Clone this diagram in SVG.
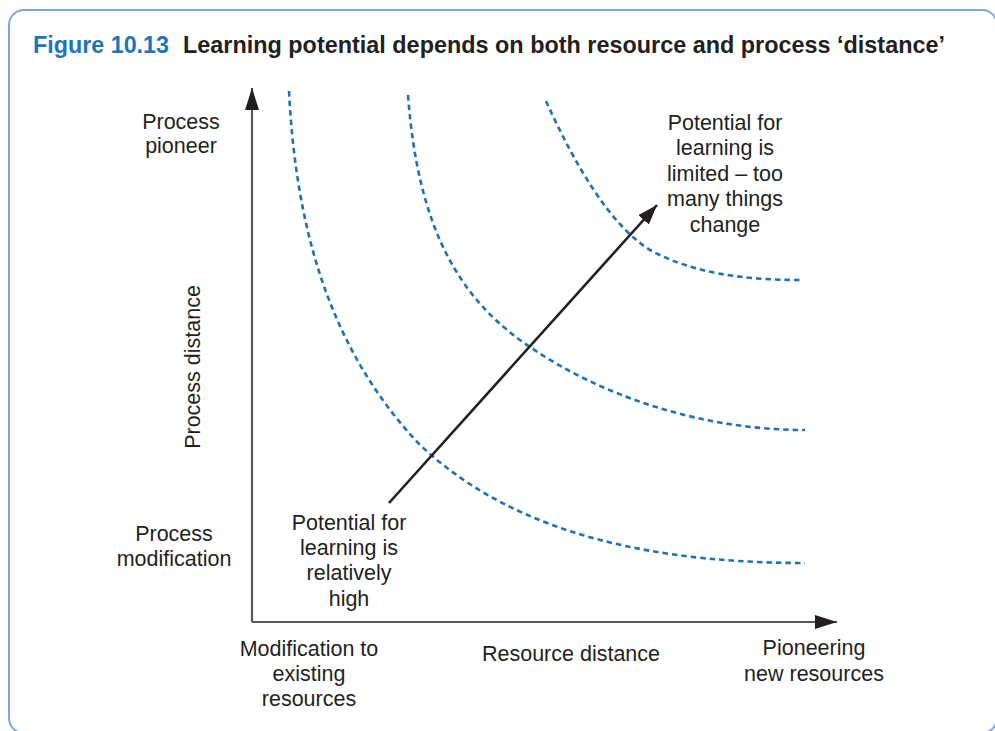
<svg xmlns="http://www.w3.org/2000/svg" width="995" height="731" viewBox="0 0 995 731">
<style>
.lbl{font-family:"Liberation Sans",Arial,sans-serif;font-size:21.5px;fill:#231f20;text-anchor:middle}
.curve{fill:none;stroke:#1a72b9;stroke-width:2.6;stroke-dasharray:5.5 4}
.axis{stroke:#58595b;stroke-width:2.2;fill:none}
.title{font-family:"Liberation Sans Narrow","Liberation Sans",Arial,sans-serif;font-weight:bold;font-size:24px}
</style>
<defs>
<marker id="axhead" viewBox="0 0 22 14" refX="22" refY="7" markerWidth="22" markerHeight="14" markerUnits="userSpaceOnUse" orient="auto">
<path d="M0,0 L22,7 L0,14 Z" fill="#231f20"/>
</marker>
<marker id="arhead" viewBox="0 0 20 14" refX="20" refY="7" markerWidth="20" markerHeight="14" markerUnits="userSpaceOnUse" orient="auto">
<path d="M0,0 L20,7 L0,14 Z" fill="#231f20"/>
</marker>
</defs>
<rect x="9" y="10" width="988" height="723" rx="15" ry="15" fill="#ffffff" stroke="#7fa6dc" stroke-width="2"/>
<g id="title">
<text class="title" x="33" y="53" fill="#1b75bb" textLength="136" lengthAdjust="spacingAndGlyphs">Figure 10.13</text>
<text class="title" x="183" y="53" fill="#231f20" textLength="762" lengthAdjust="spacingAndGlyphs">Learning potential depends on both resource and process ‘distance’</text>
</g>
<g id="connectors">
<path class="axis" d="M252,622 L252,88" marker-end="url(#axhead)"/>
<path class="axis" d="M252,622 L837,622" marker-end="url(#axhead)"/>
<path class="curve" d="M289,91 C296,230 330,350 420,445 C500,520 620,563 805,563"/>
<path class="curve" d="M408,95 C418,230 460,300 530,347 C600,395 700,430 805,430"/>
<path class="curve" d="M546,101 C575,165 610,225 650,250 C690,272 740,280 800,280"/>
<line x1="389" y1="503" x2="657" y2="205" stroke="#231f20" stroke-width="2.6" marker-end="url(#arhead)"/>
</g>
<g id="y-axis-labels">
<text class="lbl" x="181" y="129">Process</text>
<text class="lbl" x="181" y="153">pioneer</text>
<text class="lbl" transform="translate(200,367) rotate(-90)" x="0" y="0">Process distance</text>
<text class="lbl" x="174" y="541">Process</text>
<text class="lbl" x="174" y="566">modification</text>
</g>
<g id="x-axis-labels">
<text class="lbl" x="309" y="656">Modification to</text>
<text class="lbl" x="309" y="681">existing</text>
<text class="lbl" x="309" y="706">resources</text>
<text class="lbl" x="571" y="661">Resource distance</text>
<text class="lbl" x="814" y="655">Pioneering</text>
<text class="lbl" x="814" y="681">new resources</text>
</g>
<g id="note-high">
<text class="lbl" x="349" y="530">Potential for</text>
<text class="lbl" x="349" y="555">learning is</text>
<text class="lbl" x="349" y="580">relatively</text>
<text class="lbl" x="349" y="606">high</text>
</g>
<g id="note-limited">
<text class="lbl" x="725" y="130">Potential for</text>
<text class="lbl" x="725" y="155">learning is</text>
<text class="lbl" x="725" y="181">limited – too</text>
<text class="lbl" x="725" y="206">many things</text>
<text class="lbl" x="725" y="232">change</text>
</g>
</svg>
